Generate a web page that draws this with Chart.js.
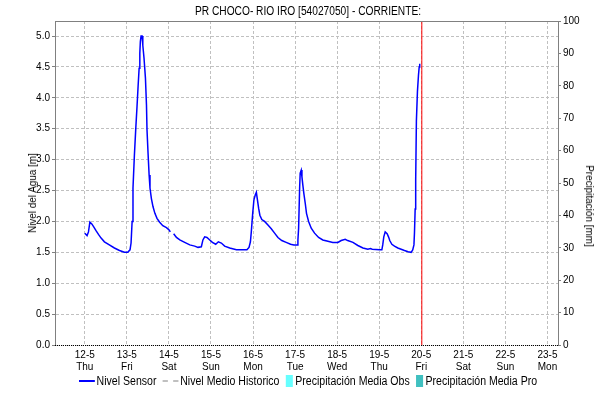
<!DOCTYPE html>
<html>
<head>
<meta charset="utf-8">
<script src="https://cdn.jsdelivr.net/npm/chart.js@4/dist/chart.umd.min.js"></script>
<style>
  body { margin: 0; background: #fff; }
  #wrap { position: relative; width: 605px; height: 400px; font-family: 'Liberation Sans', Arial, sans-serif; color: #000; }
  #title { position: absolute; left: 308px; top: 4px; font-size: 12px; white-space: nowrap; transform: translateX(-50%) scaleX(0.85); }
  .axis-title { position: absolute; font-size: 11px; white-space: nowrap; }
  #legend { position: absolute; left: 79px; top: 374px; display: flex; align-items: center; font-size: 12px; white-space: nowrap; transform: scaleX(0.88); transform-origin: 0 50%; }
  .leg-item { display: flex; align-items: center; margin-right: 7px; flex: none; }
  .leg-line { width: 18px; height: 0; margin-right: 2px; }
  .leg-box { width: 8px; height: 12px; margin-right: 3px; }
</style>
</head>
<body>
<div id="wrap">
  <canvas id="chart" width="605" height="400"></canvas>
  <div id="title">PR CHOCO- RIO IRO [54027050] - CORRIENTE:</div>
  <div class="axis-title" style="left:32px; top:193px; transform: translate(-50%, -50%) rotate(-90deg) scaleX(0.9);">Nivel del Agua [m]</div>
  <div class="axis-title" style="left:590px; top:206px; transform: translate(-50%, -50%) rotate(90deg) scaleX(0.9);">Precipitación [mm]</div>
  <div id="legend"></div>
</div>
<script>
// x axis: hours since 12-5 00:00
const dayLabels = ['12-5', '13-5', '14-5', '15-5', '16-5', '17-5', '18-5', '19-5', '20-5', '21-5', '22-5', '23-5'];
const weekdays = ['Thu', 'Fri', 'Sat', 'Sun', 'Mon', 'Tue', 'Wed', 'Thu', 'Fri', 'Sat', 'Sun', 'Mon'];
const levelTicks = [0, 0.5, 1.0, 1.5, 2.0, 2.5, 3.0, 3.5, 4.0, 4.5, 5.0];

// Nivel Sensor (null = gap in record)
const sensorHours = [
    0, 1.3, 2.1, 2.9, 4.0, 5.1, 6.4, 7.8, 9.3, 11.2, 14.0, 16.9, 19.8, 22.6, 24.5, 25.8, 26.4, 27.0, 27.5, 28.3,
    29.1, 29.8, 30.4, 31.0, 31.4, 31.7, 32.1, 32.7, 33.1, 33.8, 34.6, 35.2, 35.5, 36.1, 36.7, 37.2, 38.0, 38.9, 40.0, 41.2,
    42.6, 44.5, 46.6, 48.1, 48.8, 49.7, 50.7, 52.3, 54.2, 57.0, 59.9, 62.7, 64.6, 66.5, 67.4, 68.4, 69.7, 71.3, 72.8, 74.7,
    76.2, 77.9, 79.8, 82.7, 86.5, 92.5, 93.7, 94.5, 95.0, 95.8, 96.5, 97.3, 97.9, 98.4, 99.2, 99.9, 101.0, 102.6, 104.5, 106.4,
    108.3, 110.2, 112.4, 114.9, 117.4, 119.3, 121.2, 121.6, 122.0, 122.6, 122.9, 123.5, 123.9, 124.4, 125.0, 125.8, 126.5, 127.7, 129.2, 131.1,
    133.4, 135.8, 138.7, 141.5, 144.4, 146.3, 148.6, 150.0, 153.0, 155.8, 158.7, 161.5, 163.0, 164.0, 168.2, 169.5, 170.0, 170.6, 171.4, 172.5,
    173.3, 174.0, 175.2, 176.7, 178.6, 180.5, 182.4, 184.5, 186.2, 187.1, 187.8, 188.1, 188.5, 188.8, 189.2, 189.8, 190.4, 190.8, 191.1
];
const sensorLevels = [
    1.81, 1.77, 1.83, 1.99, 1.96, 1.91, 1.85, 1.79, 1.73, 1.67, 1.62, 1.57, 1.53, 1.50, 1.50, 1.54, 1.65, 2.00, 2.54, 3.07,
    3.51, 3.86, 4.18, 4.48, 4.72, 4.91, 5.00, 5.00, 4.85, 4.64, 4.32, 3.88, 3.48, 3.10, 2.75, 2.54, 2.37, 2.24, 2.13, 2.05,
    1.99, 1.93, 1.90, 1.86, 1.83, null, 1.80, 1.74, 1.70, 1.66, 1.62, 1.60, 1.58, 1.59, 1.70, 1.75, 1.74, 1.70, 1.66, 1.63,
    1.67, 1.65, 1.60, 1.57, 1.54, 1.54, 1.58, 1.67, 1.83, 2.13, 2.35, 2.43, 2.47, 2.37, 2.21, 2.10, 2.03, 2.00, 1.94, 1.88,
    1.81, 1.74, 1.69, 1.66, 1.63, 1.62, 1.62, 1.70, 1.89, 2.56, 2.78, 2.83, 2.72, 2.59, 2.45, 2.29, 2.13, 2.00, 1.89, 1.81,
    1.74, 1.70, 1.68, 1.66, 1.66, 1.69, 1.71, 1.69, 1.66, 1.61, 1.57, 1.55, 1.56, 1.55, 1.54, 1.54, 1.62, 1.75, 1.83, 1.80,
    1.75, 1.69, 1.63, 1.60, 1.57, 1.55, 1.53, 1.51, 1.50, 1.54, 1.62, 1.81, 2.20, 2.67, 3.62, 4.10, 4.37, 4.50, 4.55
];

// no historic mean / precipitation values shown in this period
const historicLevels = [];
const precipObs = [];
const precipPro = [];

// current time marker (hours)
const nowHour = 192.3;

const FONT = "'Liberation Sans', Arial, sans-serif";
const GRID = '#c0c0c0';
const AXIS = '#808080';

const sensorData = sensorHours.map((h, i) => ({ x: h, y: sensorLevels[i] }));

const frame = {
    id: 'frame',
    afterDatasetsDraw(chart) {
        const { ctx, chartArea: a } = chart;
        ctx.save();
        ctx.lineWidth = 1;
        ctx.strokeStyle = AXIS;
        ctx.beginPath();
        ctx.moveTo(a.left, a.top + 0.5);
        ctx.lineTo(a.right, a.top + 0.5);
        ctx.stroke();
        ctx.strokeStyle = '#000';
        ctx.setLineDash([1, 1]);
        ctx.beginPath();
        ctx.moveTo(a.left, a.bottom + 0.5);
        ctx.lineTo(a.right, a.bottom + 0.5);
        ctx.stroke();
        ctx.restore();
    }
};

const datasets = [
    {
        type: 'line', label: 'Nivel Sensor', data: sensorData, yAxisID: 'y',
        borderColor: '#0000ff', borderWidth: 1.5, pointRadius: 0, tension: 0, spanGaps: false, order: 1
    },
    {
        type: 'line', label: 'Nivel Medio Historico', data: historicLevels, yAxisID: 'y',
        borderColor: GRID, borderWidth: 1.5, borderDash: [3, 3], pointRadius: 0, order: 2
    },
    {
        type: 'bar', label: 'Precipitación Media Obs', data: precipObs, yAxisID: 'y1',
        backgroundColor: '#66ffff', order: 3
    },
    {
        type: 'bar', label: 'Precipitación Media Pro', data: precipPro, yAxisID: 'y1',
        backgroundColor: '#40c0c0', order: 4
    },
    {
        type: 'line', label: 'now', data: [{ x: nowHour, y: 0 }, { x: nowHour, y: 100 }], yAxisID: 'y1',
        borderColor: '#ff0000', borderWidth: 1, pointRadius: 0, order: 0
    }
];

const chart = new Chart(document.getElementById('chart'), {
    data: { datasets: datasets },
    options: {
        responsive: false,
        animation: false,
        layout: { padding: { top: 21, left: 0, right: 0, bottom: 0 } },
        plugins: { legend: { display: false }, title: { display: false }, tooltip: { enabled: false } },
        scales: {
            x: {
                type: 'linear', position: 'bottom', min: -17, max: 270, offset: false,
                afterBuildTicks: (scale) => { scale.ticks = dayLabels.map((_, i) => ({ value: i * 24 })); },
                afterFit: (scale) => { scale.height = 55; },
                ticks: {
                    autoSkip: false, maxRotation: 0, padding: 4, color: '#000',
                    font: { family: FONT, size: 10, lineHeight: 1.2 },
                    callback: (v, i) => [dayLabels[i], weekdays[i]]
                },
                grid: { color: GRID, drawTicks: false, offset: false },
                border: { display: false, dash: [3, 2] }
            },
            y: {
                type: 'linear', position: 'left', min: 0, max: 5.243,
                afterBuildTicks: (scale) => { scale.ticks = levelTicks.map(v => ({ value: v })); },
                afterFit: (scale) => { scale.width = 55; },
                ticks: {
                    padding: 2, color: '#000', font: { family: FONT, size: 10 },
                    callback: (v) => v.toFixed(1)
                },
                grid: { color: GRID, tickColor: AXIS, tickLength: 3, tickBorderDash: [] },
                border: { display: true, color: AXIS, dash: [3, 2] }
            },
            y1: {
                type: 'linear', position: 'right', min: 0, max: 100,
                afterFit: (scale) => { scale.width = 47; },
                ticks: { stepSize: 10, padding: 2, color: '#000', font: { family: FONT, size: 10 } },
                grid: { drawOnChartArea: false, tickColor: AXIS, tickLength: 3 },
                border: { display: true, color: AXIS }
            }
        }
    },
    plugins: [frame]
});

// HTML legend from the datasets (skip the time marker)
const legend = document.getElementById('legend');
datasets.slice(0, 4).forEach(ds => {
    const item = document.createElement('div');
    item.className = 'leg-item';
    const mark = document.createElement('span');
    if (ds.type === 'line') {
        mark.className = 'leg-line';
        mark.style.borderTop = '2px ' + (ds.borderDash ? 'dashed ' : 'solid ') + ds.borderColor;
    } else {
        mark.className = 'leg-box';
        mark.style.background = ds.backgroundColor;
    }
    const txt = document.createElement('span');
    txt.textContent = ds.label;
    item.appendChild(mark);
    item.appendChild(txt);
    legend.appendChild(item);
});
</script>
</body>
</html>
